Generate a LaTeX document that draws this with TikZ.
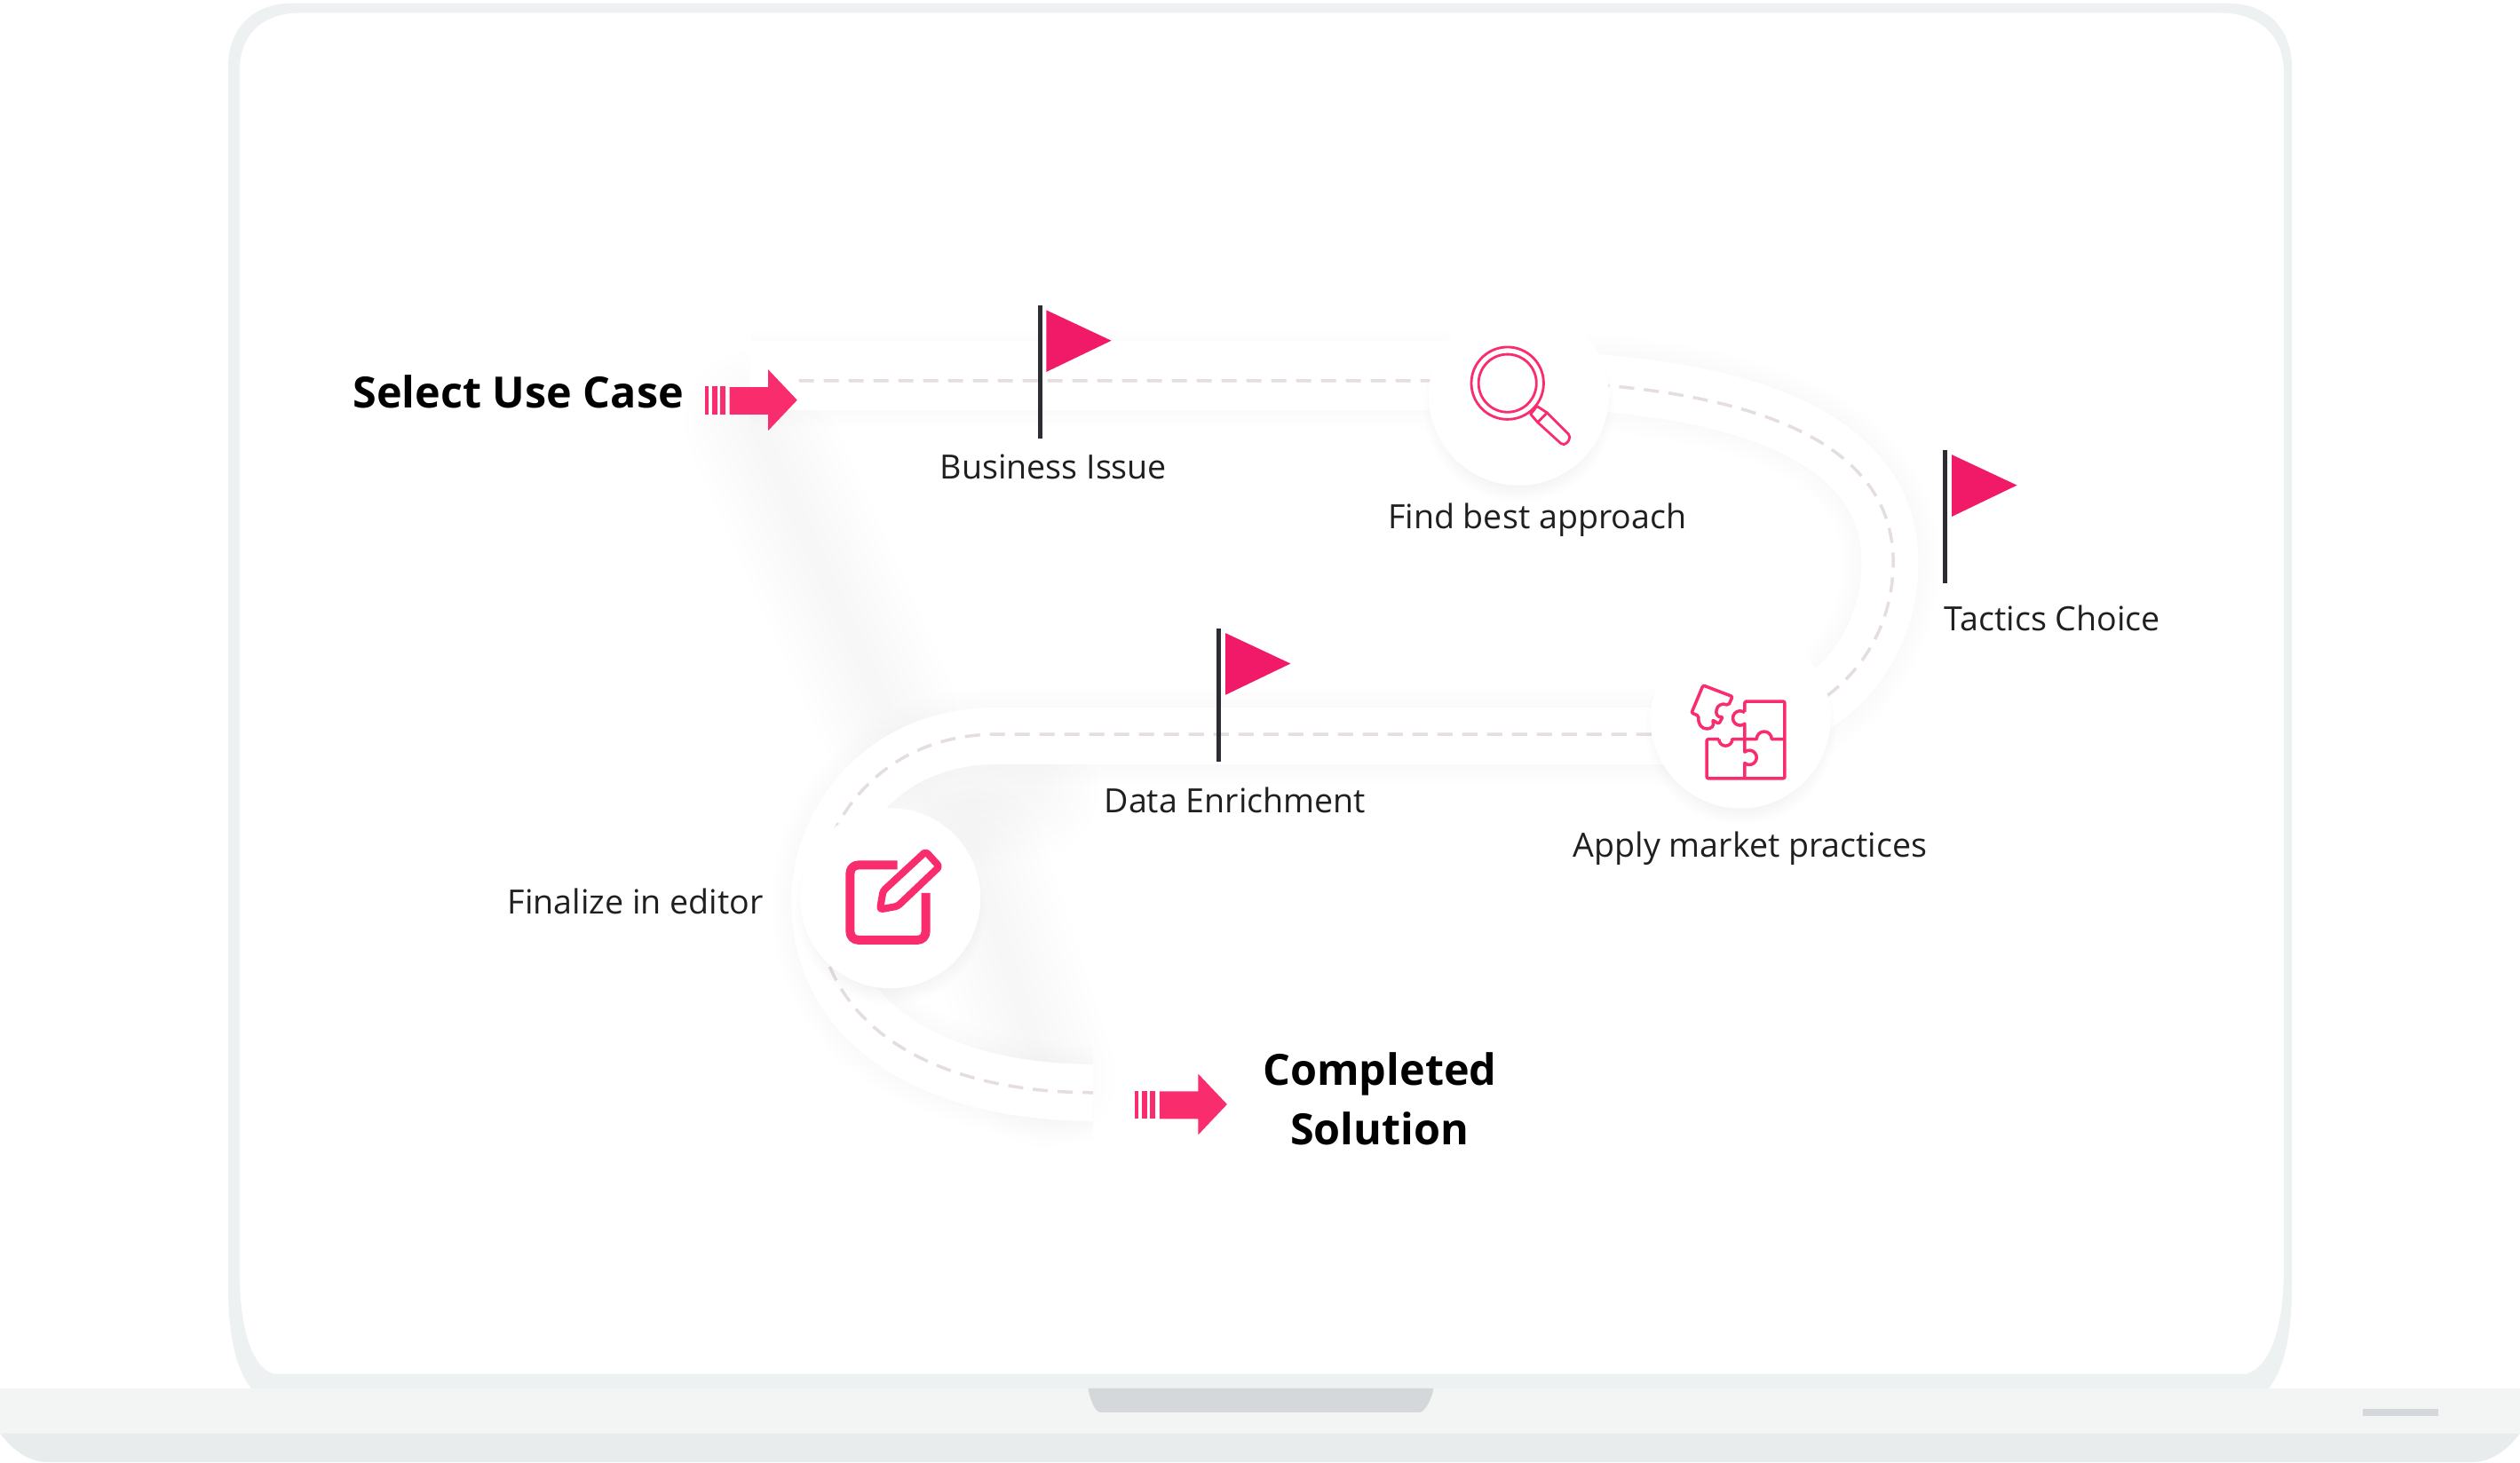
\documentclass[tikz,border=0pt]{standalone}
\usepackage{fontspec}
\setmainfont{Open Sans}
\definecolor{lidgrey}{HTML}{EEF1F1}
\definecolor{basetop}{HTML}{F3F5F5}
\definecolor{basebot}{HTML}{E9ECEC}
\definecolor{notchgrey}{HTML}{D5D8DA}
\definecolor{dashgrey}{HTML}{E5DDE2}
\definecolor{polegrey}{HTML}{2B2D33}
\definecolor{flagpink}{HTML}{F01A68}
\definecolor{iconpink}{HTML}{F92D6D}
\tikzset{
  label/.style={font=\fontsize{10.7}{12}\selectfont,text=black!88},
  title/.style={font=\fontsize{13.8}{19}\selectfont\bfseries,text=black,align=center},
  iconcircle/.style={circle,fill=white,minimum size=2.03cm,inner sep=0pt},
  iconline/.style={draw=iconpink,line width=.8pt,line join=round},
  softline/.style={line width=#1,black,opacity=.0035,line cap=round}
}
\newcommand{\roadpath}{(467,236) -- (945,236) .. controls (1080,238) and (1176,270) .. (1176,350) .. controls (1176,410) and (1130,458) .. (1060,458) -- (620,458) .. controls (550,458) and (511,510) .. (510,560) .. controls (510,640) and (585,680) .. (680,680)}
\begin{document}
\begin{tikzpicture}[x=0.0181cm,y=-0.0181cm]
\useasboundingbox (0,0) rectangle (1568,910);
\fill[white] (0,0) rectangle (1568,910);

% laptop lid
\fill[lidgrey] (142,42) .. controls (142,15) and (160,2) .. (182,2) -- (1386,2) .. controls (1408,2) and (1426,15) .. (1426,42) -- (1426,800) .. controls (1426,835) and (1420,855) .. (1410,866) -- (158,866) .. controls (148,855) and (142,835) .. (142,800) -- cycle;
\fill[white] (149,45) .. controls (149,20) and (165,8) .. (187,8) -- (1381,8) .. controls (1403,8) and (1421,20) .. (1421,45) -- (1421,790) .. controls (1421,825) and (1413,850) .. (1398,855) -- (170,855) .. controls (156,850) and (149,825) .. (149,790) -- cycle;
% laptop base
\fill[basetop] (0,864) -- (1568,864) -- (1568,892) -- (0,892) -- cycle;
\fill[basebot] (0,892) -- (1568,892) .. controls (1562,900) and (1552,910) .. (1538,910) -- (30,910) .. controls (16,910) and (6,900) .. (0,892) -- cycle;
\fill[notchgrey] (677,864) -- (892,864) .. controls (891,870) and (887,879) .. (883,879) -- (685,879) .. controls (681,879) and (678,870) .. (677,864) -- cycle;
\fill[notchgrey] (1470,877) rectangle (1517,881);

% soft shadows
\foreach \w in {.2,.4,...,1.6} {
  \draw[softline=\w cm] (470,262) -- (550,440);
  \draw[softline=\w cm] (605,530) -- (650,670);
  \draw[softline=\w cm] (640,490) -- (580,500);
}
\foreach \w in {.7,.8,...,1.2} {
  \draw[black,opacity=.003,line width=\w cm] \roadpath;
}
% road
\draw[white,line width=.64cm] \roadpath;
\draw[white,line width=.78cm] (467,233.5) -- (945,233.5);
\draw[dashgrey,line width=.035cm,dash pattern=on .17cm off .11cm] (497,237) -- (945,237) .. controls (1080,240) and (1178,270) .. (1178,350) .. controls (1178,410) and (1130,457) .. (1060,457) -- (620,457) .. controls (550,457) and (510,510) .. (508,560) .. controls (509,640) and (583,680) .. (680,680);

% circles
\foreach \cx/\cy in {945/246,1083/447,554/559} {
  \foreach \r in {59,57,...,47} {
    \fill[black,opacity=.006] (\cx,\cy+7) circle[radius=\r];
  }
}
\node[iconcircle] (search) at (945,246) {};
\node[iconcircle] (puzzle) at (1083,447) {};
\node[iconcircle] (editor) at (554,559) {};

% flags
\foreach \fx/\fy in {647/190,1210.5/280,758.5/391} {
  \draw[polegrey,line width=.05cm] (\fx,\fy) -- (\fx,\fy+83);
  \fill[flagpink] (\fx+4,\fy+3) -- (\fx+44.5,\fy+22) -- (\fx+4,\fy+41.5) -- cycle;
}

% arrows
\foreach \ax/\ay in {0/0,267.5/438.3} {
  \begin{scope}[shift={(\ax,\ay)}]
    \fill[iconpink] (438.5,240.5) rectangle (441,258);
    \fill[iconpink] (443,240.5) rectangle (446.5,258);
    \fill[iconpink] (448,240.5) rectangle (451.5,258);
    \fill[iconpink] (454,241) -- (478,241) -- (478,230) -- (496,249) -- (478,268) -- (478,258) -- (454,258) -- cycle;
  \end{scope}
}

% magnifier
\draw[iconline] (938,238.5) circle[radius=22.5];
\draw[iconline] (938,238.5) circle[radius=18];
\draw[iconline] (956.3,252.8) -- (962.7,256.9) -- (956.7,262.8) -- (952.4,257.8) -- cycle;
\draw[iconline,rounded corners=.05cm] (962.7,256.9) -- (977.8,272) -- (973.2,277.8) -- (956.7,262.8);

% puzzle
\draw[iconline,line width=1pt,rounded corners=.02cm] (1085.6,443) -- (1085.6,436.5) -- (1110.5,436.5) -- (1110.5,484.5) -- (1062,484.5) -- (1062,460) -- (1069.5,460);
\draw[iconline,line width=1pt] (1069.5,460) arc[start angle=180,end angle=0,radius=4.2] -- (1093,460) arc[start angle=180,end angle=360,radius=4.7] -- (1110.5,460);
\draw[iconline,line width=1pt] (1085.6,443.5) arc[start angle=-50,end angle=-310,radius=4.5] -- (1085.6,468) arc[start angle=-130,end angle=130,radius=4.5] -- (1085.6,484.5);
\draw[iconline,line width=1pt,rounded corners=.02cm] (1059.7,426.5) -- (1078,433.5) -- (1075.5,439) .. controls (1067,436) and (1066,447) .. (1072,446) -- (1069.5,450.5) -- (1065.5,448) .. controls (1068,455) and (1056,456) .. (1057,445.5) -- (1052.5,443.7) -- cycle;

% edit icon
\draw[iconpink,line width=.1cm,line join=round,rounded corners=.09cm] (558.3,538.4) -- (529,538.4) -- (529,585) -- (576,585) -- (576,555.8);
\draw[iconpink,line width=.08cm,line join=round,rounded corners=.03cm] (547.5,566) -- (549.5,554.5) -- (576,530) -- (584.5,539.3) -- (558.5,564) -- cycle;

% labels
\node[title] (select) at (322.5,244) {Select Use Case};
\node[title] (done) at (858.5,684) {Completed\\Solution};
\node[label] (issue) at (655.5,290.5) {Business Issue};
\node[label] (approach) at (956.5,323.5) {Find best approach};
\node[label] (tactics) at (1277,385) {Tactics Choice};
\node[label] (enrich) at (768.5,498) {Data Enrichment};
\node[label] (market) at (1089,528) {Apply market practices};
\node[label] (finalize) at (395.5,561) {Finalize in editor};
\end{tikzpicture}
\end{document}
